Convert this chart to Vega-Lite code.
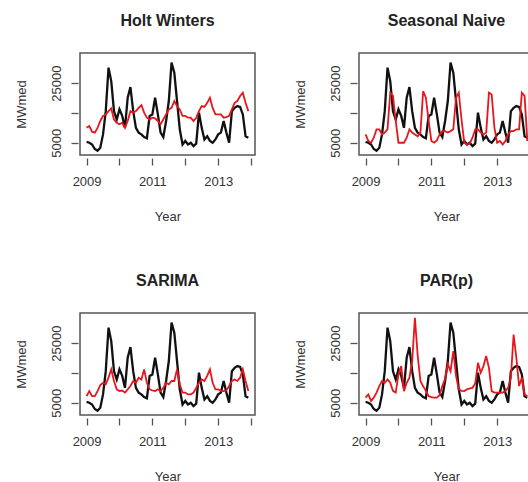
{
  "$schema": "https://vega.github.io/schema/vega-lite/v6.json",
  "background": "white",
  "padding": {"left": 14, "top": 12, "right": 0, "bottom": 0},
  "columns": 2,
  "spacing": {"row": 48, "column": 37},
  "datasets": {
    "energy": [
      {"t": 2009, "actual": 5300, "hw": 10000, "snaive": 7800, "sarima": 7200, "par": 6700},
      {"t": 2009.083, "actual": 5000, "hw": 10600, "snaive": 5600, "sarima": 8900, "par": 7800},
      {"t": 2009.167, "actual": 4400, "hw": 8700, "snaive": 5000, "sarima": 7200, "par": 5600},
      {"t": 2009.25, "actual": 2900, "hw": 8400, "snaive": 6700, "sarima": 7200, "par": 6700},
      {"t": 2009.333, "actual": 2300, "hw": 10000, "snaive": 9500, "sarima": 8900, "par": 8400},
      {"t": 2009.417, "actual": 3300, "hw": 12300, "snaive": 9500, "sarima": 10900, "par": 10600},
      {"t": 2009.5, "actual": 7800, "hw": 14000, "snaive": 7800, "sarima": 11700, "par": 12300},
      {"t": 2009.583, "actual": 15600, "hw": 14500, "snaive": 8400, "sarima": 11200, "par": 11700},
      {"t": 2009.667, "actual": 30200, "hw": 15600, "snaive": 9500, "sarima": 13400, "par": 12800},
      {"t": 2009.75, "actual": 25700, "hw": 16500, "snaive": 21800, "sarima": 16200, "par": 11700},
      {"t": 2009.833, "actual": 15600, "hw": 12800, "snaive": 20700, "sarima": 12300, "par": 9000},
      {"t": 2009.917, "actual": 12800, "hw": 11700, "snaive": 12300, "sarima": 9500, "par": 8400},
      {"t": 2010, "actual": 16200, "hw": 11200, "snaive": 5000, "sarima": 8900, "par": 14500},
      {"t": 2010.083, "actual": 14000, "hw": 11700, "snaive": 5000, "sarima": 9100, "par": 17300},
      {"t": 2010.167, "actual": 10000, "hw": 10000, "snaive": 5000, "sarima": 8400, "par": 8900},
      {"t": 2010.25, "actual": 20100, "hw": 12300, "snaive": 6700, "sarima": 9500, "par": 11700},
      {"t": 2010.333, "actual": 23700, "hw": 15600, "snaive": 9500, "sarima": 10600, "par": 13400},
      {"t": 2010.417, "actual": 15600, "hw": 15100, "snaive": 8400, "sarima": 12300, "par": 19000},
      {"t": 2010.5, "actual": 10000, "hw": 15600, "snaive": 7800, "sarima": 11700, "par": 33500},
      {"t": 2010.583, "actual": 8400, "hw": 16700, "snaive": 7200, "sarima": 13400, "par": 21000},
      {"t": 2010.667, "actual": 7800, "hw": 17600, "snaive": 8400, "sarima": 12800, "par": 12300},
      {"t": 2010.75, "actual": 6900, "hw": 15100, "snaive": 22300, "sarima": 16200, "par": 10500},
      {"t": 2010.833, "actual": 6500, "hw": 13400, "snaive": 20100, "sarima": 11700, "par": 9000},
      {"t": 2010.917, "actual": 14000, "hw": 12800, "snaive": 12300, "sarima": 9500, "par": 7200},
      {"t": 2011, "actual": 14500, "hw": 13400, "snaive": 5600, "sarima": 9100, "par": 6900},
      {"t": 2011.083, "actual": 20100, "hw": 13200, "snaive": 5000, "sarima": 8900, "par": 6700},
      {"t": 2011.167, "actual": 14500, "hw": 12300, "snaive": 5800, "sarima": 9500, "par": 6700},
      {"t": 2011.25, "actual": 8400, "hw": 11200, "snaive": 7800, "sarima": 8900, "par": 7500},
      {"t": 2011.333, "actual": 6900, "hw": 12800, "snaive": 8900, "sarima": 10000, "par": 10600},
      {"t": 2011.417, "actual": 12300, "hw": 14500, "snaive": 8900, "sarima": 11700, "par": 13000},
      {"t": 2011.5, "actual": 19000, "hw": 16200, "snaive": 8400, "sarima": 11200, "par": 17900},
      {"t": 2011.583, "actual": 31900, "hw": 16700, "snaive": 8900, "sarima": 12300, "par": 15600},
      {"t": 2011.667, "actual": 28500, "hw": 19000, "snaive": 9500, "sarima": 12300, "par": 22300},
      {"t": 2011.75, "actual": 19000, "hw": 17300, "snaive": 20100, "sarima": 16200, "par": 14000},
      {"t": 2011.833, "actual": 9500, "hw": 16200, "snaive": 21800, "sarima": 11200, "par": 9500},
      {"t": 2011.917, "actual": 4400, "hw": 14000, "snaive": 12800, "sarima": 8400, "par": 9000},
      {"t": 2012, "actual": 5600, "hw": 14000, "snaive": 5000, "sarima": 8400, "par": 8900},
      {"t": 2012.083, "actual": 4400, "hw": 13400, "snaive": 4400, "sarima": 7800, "par": 9500},
      {"t": 2012.167, "actual": 5000, "hw": 13400, "snaive": 4700, "sarima": 7800, "par": 9800},
      {"t": 2012.25, "actual": 3900, "hw": 12300, "snaive": 6700, "sarima": 8400, "par": 10000},
      {"t": 2012.333, "actual": 4700, "hw": 13400, "snaive": 9500, "sarima": 10000, "par": 11500},
      {"t": 2012.417, "actual": 15100, "hw": 15600, "snaive": 9500, "sarima": 11700, "par": 18400},
      {"t": 2012.5, "actual": 10000, "hw": 17300, "snaive": 8400, "sarima": 12800, "par": 15100},
      {"t": 2012.583, "actual": 6100, "hw": 17000, "snaive": 7800, "sarima": 12300, "par": 17300},
      {"t": 2012.667, "actual": 7200, "hw": 18400, "snaive": 8400, "sarima": 14000, "par": 20700},
      {"t": 2012.75, "actual": 5600, "hw": 20100, "snaive": 21800, "sarima": 16200, "par": 16700},
      {"t": 2012.833, "actual": 5000, "hw": 16700, "snaive": 21200, "sarima": 11700, "par": 8900},
      {"t": 2012.917, "actual": 6100, "hw": 14500, "snaive": 10000, "sarima": 9500, "par": 8400},
      {"t": 2013, "actual": 7800, "hw": 14500, "snaive": 5000, "sarima": 9500, "par": 8400},
      {"t": 2013.083, "actual": 8400, "hw": 14500, "snaive": 5600, "sarima": 8900, "par": 8400},
      {"t": 2013.167, "actual": 12300, "hw": 13400, "snaive": 4400, "sarima": 8900, "par": 8400},
      {"t": 2013.25, "actual": 8400, "hw": 13600, "snaive": 5600, "sarima": 9100, "par": 8900},
      {"t": 2013.333, "actual": 5000, "hw": 14000, "snaive": 7800, "sarima": 10600, "par": 10000},
      {"t": 2013.417, "actual": 15600, "hw": 16200, "snaive": 8900, "sarima": 12300, "par": 13400},
      {"t": 2013.5, "actual": 16700, "hw": 18400, "snaive": 8900, "sarima": 12800, "par": 27900},
      {"t": 2013.583, "actual": 17300, "hw": 19000, "snaive": 9500, "sarima": 12300, "par": 20100},
      {"t": 2013.667, "actual": 17000, "hw": 20700, "snaive": 9500, "sarima": 13400, "par": 10600},
      {"t": 2013.75, "actual": 14500, "hw": 21800, "snaive": 21800, "sarima": 16200, "par": 13400},
      {"t": 2013.833, "actual": 7200, "hw": 18400, "snaive": 20700, "sarima": 12300, "par": 7800},
      {"t": 2013.917, "actual": 6700, "hw": 15600, "snaive": 5600, "sarima": 8900, "par": 7200}
    ]
  },
  "concat": [
    {
      "title": "Holt Winters",
      "width": 175,
      "height": 102,
      "data": {"name": "energy"},
      "encoding": {
        "x": {"field": "t", "type": "quantitative", "title": "Year",
              "scale": {"domain": [2008.8, 2014.12], "nice": false, "zero": false},
              "axis": {"values": [2009, 2010, 2011, 2012, 2013, 2014], "format": "d", "labelExpr": "datum.value % 2 == 1 ? datum.label : ''"}}
      },
      "layer": [
        {"mark": {"type": "line", "color": "#111111", "strokeWidth": 2.3},
         "encoding": {"y": {"field": "actual", "type": "quantitative", "title": "MWmed",
                            "scale": {"domain": [880, 35120], "nice": false, "zero": false},
                            "axis": {"values": [5000, 10000, 15000, 20000, 25000, 30000], "format": "d", "labelExpr": "datum.value == 5000 || datum.value == 25000 ? datum.label : ''"}}}},
        {"mark": {"type": "line", "color": "#e8161c", "strokeWidth": 1.8},
         "encoding": {"y": {"field": "hw", "type": "quantitative", "title": "MWmed"}}}
      ]
    },
    {
      "title": "Seasonal Naive",
      "width": 175,
      "height": 102,
      "data": {"name": "energy"},
      "encoding": {
        "x": {"field": "t", "type": "quantitative", "title": "Year",
              "scale": {"domain": [2008.8, 2014.12], "nice": false, "zero": false},
              "axis": {"values": [2009, 2010, 2011, 2012, 2013, 2014], "format": "d", "labelExpr": "datum.value % 2 == 1 ? datum.label : ''"}}
      },
      "layer": [
        {"mark": {"type": "line", "color": "#111111", "strokeWidth": 2.3},
         "encoding": {"y": {"field": "actual", "type": "quantitative", "title": "MWmed",
                            "scale": {"domain": [880, 35120], "nice": false, "zero": false},
                            "axis": {"values": [5000, 10000, 15000, 20000, 25000, 30000], "format": "d", "labelExpr": "datum.value == 5000 || datum.value == 25000 ? datum.label : ''"}}}},
        {"mark": {"type": "line", "color": "#e8161c", "strokeWidth": 1.8},
         "encoding": {"y": {"field": "snaive", "type": "quantitative", "title": "MWmed"}}}
      ]
    },
    {
      "title": "SARIMA",
      "width": 175,
      "height": 102,
      "data": {"name": "energy"},
      "encoding": {
        "x": {"field": "t", "type": "quantitative", "title": "Year",
              "scale": {"domain": [2008.8, 2014.12], "nice": false, "zero": false},
              "axis": {"values": [2009, 2010, 2011, 2012, 2013, 2014], "format": "d", "labelExpr": "datum.value % 2 == 1 ? datum.label : ''"}}
      },
      "layer": [
        {"mark": {"type": "line", "color": "#111111", "strokeWidth": 2.3},
         "encoding": {"y": {"field": "actual", "type": "quantitative", "title": "MWmed",
                            "scale": {"domain": [880, 35120], "nice": false, "zero": false},
                            "axis": {"values": [5000, 10000, 15000, 20000, 25000, 30000], "format": "d", "labelExpr": "datum.value == 5000 || datum.value == 25000 ? datum.label : ''"}}}},
        {"mark": {"type": "line", "color": "#e8161c", "strokeWidth": 1.8},
         "encoding": {"y": {"field": "sarima", "type": "quantitative", "title": "MWmed"}}}
      ]
    },
    {
      "title": "PAR(p)",
      "width": 175,
      "height": 102,
      "data": {"name": "energy"},
      "encoding": {
        "x": {"field": "t", "type": "quantitative", "title": "Year",
              "scale": {"domain": [2008.8, 2014.12], "nice": false, "zero": false},
              "axis": {"values": [2009, 2010, 2011, 2012, 2013, 2014], "format": "d", "labelExpr": "datum.value % 2 == 1 ? datum.label : ''"}}
      },
      "layer": [
        {"mark": {"type": "line", "color": "#111111", "strokeWidth": 2.3},
         "encoding": {"y": {"field": "actual", "type": "quantitative", "title": "MWmed",
                            "scale": {"domain": [880, 35120], "nice": false, "zero": false},
                            "axis": {"values": [5000, 10000, 15000, 20000, 25000, 30000], "format": "d", "labelExpr": "datum.value == 5000 || datum.value == 25000 ? datum.label : ''"}}}},
        {"mark": {"type": "line", "color": "#e8161c", "strokeWidth": 1.8},
         "encoding": {"y": {"field": "par", "type": "quantitative", "title": "MWmed"}}}
      ]
    }
  ],
  "config": {
    "font": "Liberation Sans",
    "view": {"stroke": "#555555", "strokeWidth": 1.5},
    "title": {"fontSize": 16, "fontWeight": "bold", "color": "#222222", "anchor": "middle", "frame": "group", "offset": 24},
    "axis": {
      "grid": false,
      "domain": false,
      "tickColor": "#555555",
      "tickWidth": 1.3,
      "tickSize": 7,
      "labelFont": "Liberation Sans",
      "labelFontSize": 13,
      "labelColor": "#333333",
      "labelOverlap": false,
      "labelFlush": false,
      "titleFont": "Liberation Sans",
      "titleFontSize": 13,
      "titleFontWeight": "normal",
      "titleColor": "#333333"
    },
    "axisX": {"offset": 3, "labelPadding": 10, "titlePadding": 22},
    "axisY": {"offset": 2, "labelAngle": 270, "labelAlign": "center", "labelBaseline": "bottom", "labelPadding": 8, "titlePadding": 22}
  }
}
